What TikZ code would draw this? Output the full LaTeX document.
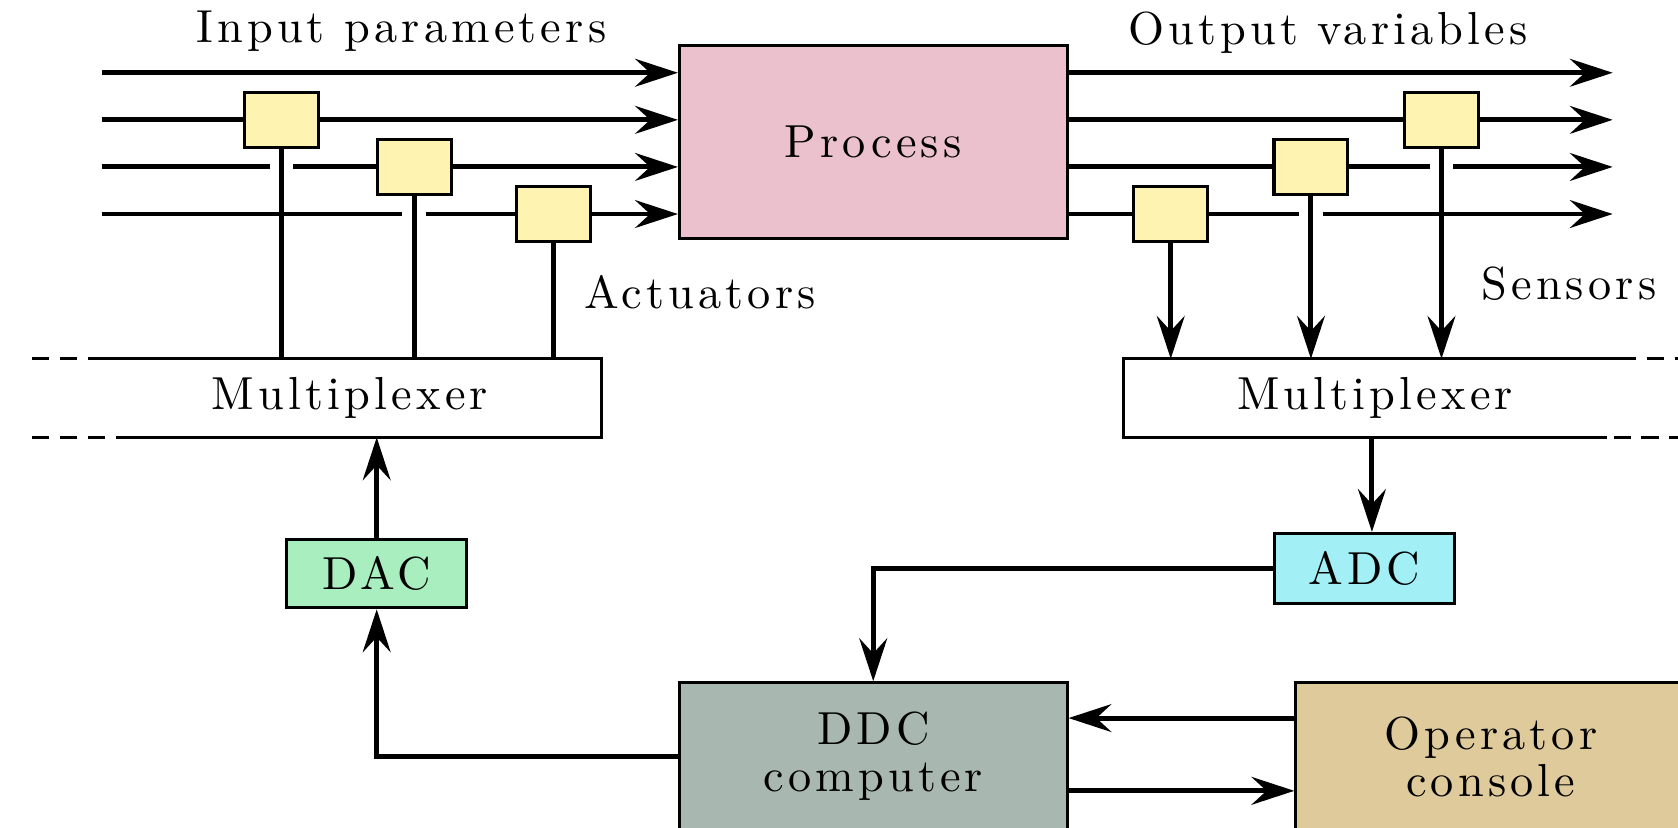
\documentclass[tikz,border=0pt]{standalone}
\usepackage{fontspec}
\setmainfont{lmroman10-regular.otf}[LetterSpace=9]
\usetikzlibrary{arrows.meta,calc}
\definecolor{procfill}{RGB}{236,193,206}
\definecolor{devfill}{RGB}{255,243,178}
\definecolor{dacfill}{RGB}{168,238,190}
\definecolor{adcfill}{RGB}{162,240,246}
\definecolor{ddcfill}{RGB}{168,184,176}
\definecolor{opfill}{RGB}{222,202,155}
\begin{document}
\begin{tikzpicture}[x=0.01cm,y=-0.01cm,
  every node/.style={font=\fontsize{12.3}{12.5}\selectfont},
  wire/.style={line width=1.3pt},
  arr/.style={wire,-{Stealth[length=4mm,width=2.6mm,inset=1.4mm]}},
  edge/.style={line width=0.8pt},
  dashedge/.style={edge,dash pattern=on 0.16cm off 0.1cm},
  box/.style={draw,line width=0.8pt,inner sep=0pt,align=center},
  dev/.style={box,fill=devfill,minimum width=0.69cm,minimum height=0.52cm},
  mux/.style={inner sep=0pt,minimum width=4.68cm,minimum height=0.72cm}]
\useasboundingbox (0,0) rectangle (1568,773);

% main blocks
\node[box,fill=procfill,minimum width=3.62cm,minimum height=1.80cm] (proc) at (816,133) {Process};
\node[mux] (muxL) at (327,372) {Multiplexer};
\node[mux] (muxR) at (1285,372) {Multiplexer};
\node[box,fill=dacfill,minimum width=1.68cm,minimum height=0.64cm] (dac) at (352,536) {DAC};
\node[box,fill=adcfill,minimum width=1.68cm,minimum height=0.65cm] (adc) at (1275,531) {ADC};
\node[box,fill=ddcfill,minimum width=3.62cm,minimum height=1.38cm] (ddc) at (816,707) {DDC\\computer};
\node[box,fill=opfill,minimum width=3.64cm,minimum height=1.38cm] (op) at (1393,707) {Operator\\console};

% actuators and sensors
\node[dev] (act1) at (263,112) {};
\node[dev] (act2) at (387,156) {};
\node[dev] (act3) at (517,200) {};
\node[dev] (sen1) at (1094,200) {};
\node[dev] (sen2) at (1225,156) {};
\node[dev] (sen3) at (1347,112) {};

% labels
\node[anchor=base] (lin) at (375,40) {Input parameters};
\node[anchor=base] (lout) at (1241,42) {Output variables};
\node[anchor=base] (lact) at (654,288) {Actuators};
\node[anchor=base] (lsen) at (1466,280) {Sensors};

% free ends of the signal lines
\coordinate (i1) at (95,68);
\coordinate (i2) at (95,112);
\coordinate (i3) at (95,156);
\coordinate (i4) at (95,200);
\coordinate (o1) at (1507,68);
\coordinate (o2) at (1507,112);
\coordinate (o3) at (1507,156);
\coordinate (o4) at (1507,200);

% input side
\draw[arr] (i1) -- (i1 -| proc.west);
\draw[wire] (i2) -- (act1.west);
\draw[arr] (act1.east) -- (act1.east -| proc.west);
\draw[wire] (i3) -- ($(i3 -| act1)+(-11,0)$);
\draw[wire] ($(i3 -| act1)+(11,0)$) -- (act2.west);
\draw[arr] (act2.east) -- (act2.east -| proc.west);
\draw[wire] (i4) -- ($(i4 -| act2)+(-11,0)$);
\draw[wire] ($(i4 -| act2)+(11,0)$) -- (act3.west);
\draw[arr] (act3.east) -- (act3.east -| proc.west);
\draw[wire] (act1.south) -- (act1.south |- muxL.north);
\draw[wire] (act2.south) -- (act2.south |- muxL.north);
\draw[wire] (act3.south) -- (act3.south |- muxL.north);

% output side
\draw[arr] (proc.east |- i1) -- (o1);
\draw[wire] (proc.east |- i2) -- (sen3.west);
\draw[arr] (sen3.east) -- (o2);
\draw[wire] (proc.east |- i3) -- (sen2.west);
\draw[wire] (sen2.east) -- ($(o3 -| sen3)+(-11,0)$);
\draw[arr] ($(o3 -| sen3)+(11,0)$) -- (o3);
\draw[wire] (proc.east |- i4) -- (sen1.west);
\draw[wire] (sen1.east) -- ($(o4 -| sen2)+(-11,0)$);
\draw[arr] ($(o4 -| sen2)+(11,0)$) -- (o4);
\draw[arr] (sen1.south) -- (sen1.south |- muxR.north);
\draw[arr] (sen2.south) -- (sen2.south |- muxR.north);
\draw[arr] (sen3.south) -- (sen3.south |- muxR.north);

% multiplexer outlines, open towards the page edges
\draw[edge] ($(muxL.north west)+(-10,0)$) -- (muxL.north east) -- (muxL.south east) -- ($(muxL.south west)+(16,0)$);
\draw[dashedge] ($(muxL.north west)+(-62,0)$) -- ($(muxL.north west)+(-10,0)$);
\draw[dashedge] ($(muxL.south west)+(-62,0)$) -- ($(muxL.south west)+(16,0)$);
\draw[edge] ($(muxR.north east)+(9,0)$) -- (muxR.north west) -- (muxR.south west) -- ($(muxR.south east)+(-18,0)$);
\draw[dashedge] ($(muxR.north east)+(19,0)$) -- ($(muxR.north east)+(70,0)$);
\draw[dashedge] ($(muxR.south east)+(-12,0)$) -- ($(muxR.south east)+(70,0)$);

% converters and computer
\draw[arr] (dac.north) -- (dac.north |- muxL.south);
\draw[arr] (ddc.west) -| (dac.south);
\coordinate (m2) at ($(muxR.south)+(-3,0)$);
\draw[arr] (m2) -- (m2 |- adc.north);
\draw[arr] (adc.west) -| (ddc.north);
\draw[arr] ($(op.west)+(0,-36)$) -- ($(ddc.east)+(0,-36)$);
\draw[arr] ($(ddc.east)+(0,32)$) -- ($(op.west)+(0,32)$);
\end{tikzpicture}
\end{document}
